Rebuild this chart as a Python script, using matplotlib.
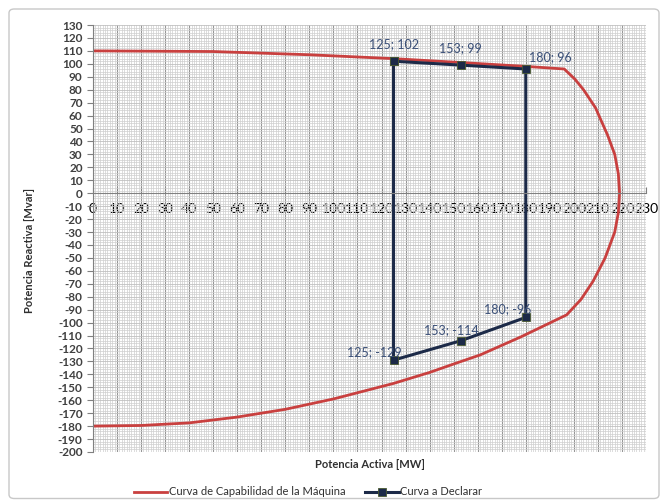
import matplotlib
matplotlib.use("Agg")
import matplotlib.pyplot as plt
from matplotlib.patches import FancyBboxPatch
from matplotlib.ticker import MultipleLocator

plt.rcParams["font.family"] = ["Lato", "DejaVu Sans"]

# -------- Data --------
# capability curve of the machine
cap_p = [0, 50, 90, 125, 153, 180, 196, 200.5, 204, 209, 214, 217, 218.5, 219,
         218.5, 217, 213, 208, 203, 197, 178, 161, 150, 140, 125, 100,
         80, 60, 40, 20, 0]
cap_q = [110, 109.5, 107, 104, 101, 98, 96, 88, 80, 66, 45, 30, 15, 0,
         -15, -30, -50, -68, -82, -94, -111, -125, -132, -138.5, -147, -159,
         -167, -173, -177.5, -179.5, -180]

# declared curve
dec_p = [125, 153, 180, 180, 153, 125, 125]
dec_q = [102, 99, 96, -96, -114, -129, 102]

# label offsets in pixels for each declared point
lab_dx = [0, 0, 25, -18, -9, -19]
lab_dy = [17, 17, 12, 8, 11, 8]

x_ticks = list(range(0, 231, 10))
y_ticks = list(range(-200, 131, 10))

# -------- Plot --------
fig = plt.figure(figsize=(6.65, 5.01), dpi=100)
ax = fig.add_axes([93 / 665, 1 - 452 / 501, (646 - 93) / 665, (452 - 25) / 501])

border = FancyBboxPatch((9 / 665, 0.005), 650 / 665, 1 - 9 / 501 - 0.005,
                        boxstyle="round,pad=0,rounding_size=0.008",
                        transform=fig.transFigure, facecolor="none",
                        edgecolor="#c8c8c8", linewidth=1)
fig.patches.append(border)

ax.set_facecolor("white")
ax.set_xlim(0, 230)
ax.set_ylim(-200, 130)
ax.set_xticks(x_ticks, labels=[str(v) for v in x_ticks], fontweight="bold",
              fontsize=7.8, color="#404040")
ax.set_yticks(y_ticks, labels=[str(v) for v in y_ticks], fontweight="bold",
              fontsize=8.5, color="#404040")
ax.xaxis.set_minor_locator(MultipleLocator(1))
ax.yaxis.set_minor_locator(MultipleLocator(2))
ax.grid(True, which="minor", color="#cfcfcf", linewidth=0.5)
ax.grid(True, which="major", axis="x", color="#969696", linewidth=0.8)
ax.grid(True, which="major", axis="y", color="#c0c0c0", linewidth=0.6)
ax.set_axisbelow(True)

for s in ["top", "right"]:
    ax.spines[s].set_visible(False)
ax.spines["bottom"].set_position(("data", 0))
ax.spines["bottom"].set_color("#808080")
ax.spines["left"].set_color("#808080")

ax.tick_params(axis="x", which="major", direction="in", length=4, color="#808080", pad=7)
ax.tick_params(axis="y", which="major", direction="out", length=4, color="#808080")
ax.tick_params(which="minor", length=0)

ax.plot(cap_p, cap_q, color="#c9403f", linewidth=2,
        label="Curva de Capabilidad de la Máquina")
ax.plot(dec_p, dec_q, color="#1c2a48", linewidth=2.2, marker="s", markersize=6,
        markeredgecolor="#4a5a30", markeredgewidth=0.6, label="Curva a Declarar")

for i in range(6):
    ax.annotate(f"{dec_p[i]}; {dec_q[i]}", (dec_p[i], dec_q[i]),
                xytext=(lab_dx[i], lab_dy[i]), textcoords="offset pixels",
                ha="center", va="center", fontsize=9, color="#3b5078")

ax.set_xlabel("Potencia Activa [MW]", fontsize=8, fontweight="bold", color="#303030")
ax.set_ylabel("Potencia Reactiva [Mvar]", fontsize=8, fontweight="bold",
              color="#303030")
ax.xaxis.set_label_coords(0.5, -0.016)
ax.yaxis.set_label_coords(-0.105, 0.473)

fig.legend(loc="center", bbox_to_anchor=(0.463, 0.018), ncol=2, frameon=False,
           fontsize=8, handlelength=3, columnspacing=1.8, handletextpad=0.1,
           labelcolor="#303030")

fig.savefig("out.png", dpi=100)
